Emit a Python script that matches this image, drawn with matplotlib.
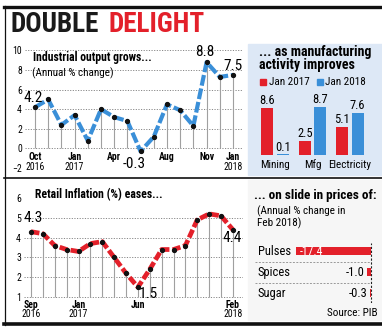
import matplotlib
matplotlib.use('Agg')
import matplotlib.pyplot as plt
from matplotlib import font_manager
from matplotlib.patches import Rectangle
from matplotlib.lines import Line2D

# ---- data ----
iip_months = ['Oct 2016', 'Nov', 'Dec', 'Jan 2017', 'Feb', 'Mar', 'Apr', 'May', 'Jun',
              'Jul', 'Aug', 'Sep', 'Oct', 'Nov', 'Dec', 'Jan 2018']
iip_values = [4.2, 5.0, 2.4, 3.4, 0.8, 4.0, 3.2, 2.8, -0.3, 1.2, 4.5, 3.9, 2.3, 8.8, 7.3, 7.5]
iip_ticks = {0: ('Oct', '2016'), 3: ('Jan', '2017'), 6: ('Apr', ''), 10: ('Aug', ''),
             13: ('Nov', ''), 15: ('Jan', '2018')}
iip_callouts = {0: '4.2', 8: '-0.3', 13: '8.8', 15: '7.5'}

cpi_months = ['Sep 2016', 'Oct', 'Nov', 'Dec', 'Jan 2017', 'Feb', 'Mar', 'Apr', 'May',
              'Jun', 'Jul', 'Aug', 'Sep', 'Oct', 'Nov', 'Dec', 'Jan 2018', 'Feb 2018']
cpi_values = [4.3, 4.2, 3.6, 3.4, 3.3, 3.7, 3.8, 3.0, 2.2, 1.5, 2.4, 3.4, 3.4, 3.6, 4.9, 5.2, 5.1, 4.4]
cpi_ticks = {0: ('Sep', '2016'), 4: ('Jan', '2017'), 9: ('Jun', ''), 17: ('Feb', '2018')}
cpi_callouts = {0: '4.3', 9: '1.5', 17: '4.4'}

sectors = ['Mining', 'Mfg', 'Electricity']
sector_2017 = [8.6, 2.5, 5.1]
sector_2018 = [0.1, 8.7, 7.6]

items = ['Pulses', 'Spices', 'Sugar']
item_change = [-17.4, -1.0, -0.3]

RED = '#e3202a'
BLUE = '#3a8fd8'

W, H = 382, 328


def pick(cands):
    names = {f.name for f in font_manager.fontManager.ttflist}
    for c in cands:
        if c in names:
            return c
    return 'DejaVu Sans'


NARROW = pick(['Liberation Sans Narrow', 'Roboto Condensed', 'Roboto'])
plt.rcParams['font.family'] = [NARROW, 'DejaVu Sans']


def rect(x0, y0, x1, y1):
    return [x0 / W, 1 - y1 / H, (x1 - x0) / W, (y1 - y0) / H]


def ftext(x, y, s, **kw):
    kw.setdefault('va', 'center')
    return fig.text(x / W, 1 - y / H, s, **kw)


def hline(x0, x1, y, **kw):
    fig.add_artist(Line2D([x0 / W, x1 / W], [1 - y / H, 1 - y / H], transform=fig.transFigure, **kw))


def vline(x, y0, y1, **kw):
    fig.add_artist(Line2D([x / W, x / W], [1 - y0 / H, 1 - y1 / H], transform=fig.transFigure, **kw))


fig = plt.figure(figsize=(W / 100, H / 100), dpi=100)

# panel backgrounds
fig.add_artist(Rectangle((248 / W, 1 - 175 / H), (W - 248) / W, (175 - 44) / H,
                         transform=fig.transFigure, color='#dde8f6', zorder=0))
fig.add_artist(Rectangle((248 / W, 1 - 320 / H), (W - 248) / W, (320 - 180) / H,
                         transform=fig.transFigure, color='#f6f6f6', zorder=0))

# frame lines
hline(4, W, 7, color='#111111', lw=2.4)
hline(4, W, 177.5, color='#111111', lw=1.2)
hline(4, W, 324, color='#111111', lw=2.6)
vline(4.5, 6, 325, color='#111111', lw=0.9)

# headline
ftext(11, 24, 'DOUBLE', color='#1a1a1a', fontsize=19.5, fontweight='bold')
ftext(108, 24, 'DELIGHT', color=RED, fontsize=19.5, fontweight='bold')

# ---- industrial output ----
ax1 = fig.add_axes(rect(25, 44, 243, 172))
x1 = list(range(len(iip_values)))
ax1.set_xlim(-0.758, 15.76)
ax1.set_ylim(-2.4, 10.66)
ax1.set_yticks([-2, 0, 2, 4, 6, 8, 10])
ax1.set_xticks([])
ax1.tick_params(axis='y', length=0, pad=2.2, labelsize=7)
for y in range(0, 11, 2):
    ax1.axhline(y, color='#888888', lw=0.7, ls=(0, (1.2, 1.5)), zorder=1)
ax1.vlines(x1, 0, iip_values, color='#a0a0a0', lw=0.8, zorder=2)
ax1.plot(x1, iip_values, color=BLUE, lw=3.0, ls=(0, (2.6, 0.7)), zorder=3, solid_capstyle='butt')
ax1.plot(x1, iip_values, 'o', color='#111111', ms=2.8, zorder=4)
for s in ax1.spines.values():
    s.set_visible(False)
ax1.patch.set_alpha(0)
for i, (m, yr) in iip_ticks.items():
    ax1.text(i, -0.85, m, ha='center', va='center', fontsize=7, fontweight='bold', clip_on=False)
    if yr:
        ax1.text(i, -1.85, yr, ha='center', va='center', fontsize=7, clip_on=False)
call_off = {0: (-0.1, 0.9), 8: (-0.45, -1.3), 13: (-0.15, 1.05), 15: (0.0, 0.9)}
for i, lab in iip_callouts.items():
    dx, dy = call_off[i]
    ax1.text(i + dx, iip_values[i] + dy, lab, ha='center', va='center', fontsize=11, clip_on=False)
ftext(33, 57, 'Industrial output grows...', fontsize=8.5, fontweight='bold')
ftext(32, 73, '(Annual % change)', fontsize=8)

# ---- manufacturing bars ----
ax2 = fig.add_axes(rect(250, 95, 378, 155))
xs = list(range(len(sectors)))
off = 0.205
bw = 0.32
ax2.bar([x - off for x in xs], sector_2017, width=bw, color=RED, label='Jan 2017')
ax2.bar([x + off for x in xs], sector_2018, width=bw, color=BLUE, label='Jan 2018')
ax2.set_xlim(-0.667, 2.747)
ax2.set_ylim(0, 10.9)
ax2.axis('off')
for x, v in zip(xs, sector_2017):
    ax2.text(x - off, v + 0.15, f'{v}', ha='center', va='bottom', fontsize=9, clip_on=False)
for x, v in zip(xs, sector_2018):
    ax2.text(x + off, v + 0.15, f'{v}', ha='center', va='bottom', fontsize=9, clip_on=False)
for x, s in zip(xs, sectors):
    ax2.text(x, -1.8, s, ha='center', va='center', fontsize=8, clip_on=False)
ftext(259, 52, '... as manufacturing', fontsize=10, fontweight='bold')
ftext(259, 65, 'activity improves', fontsize=10, fontweight='bold')
fig.add_artist(Rectangle((260 / W, 1 - 85 / H), 6 / W, 6 / H, transform=fig.transFigure, color=RED))
ftext(269, 82, 'Jan 2017', fontsize=8)
fig.add_artist(Rectangle((317 / W, 1 - 85 / H), 6 / W, 6 / H, transform=fig.transFigure, color=BLUE))
ftext(325, 82, 'Jan 2018', fontsize=8)

# ---- retail inflation ----
ax3 = fig.add_axes(rect(24, 183, 243, 300))
x3 = list(range(len(cpi_values)))
ax3.set_xlim(-0.59, 17.85)
ax3.set_ylim(0.85, 6.76)
ax3.set_yticks([1, 2, 3, 4, 5, 6])
ax3.set_xticks([])
ax3.tick_params(axis='y', length=0, pad=2.2, labelsize=7)
for y in range(1, 6):
    ax3.axhline(y, color='#888888', lw=0.7, ls=(0, (1.2, 1.5)), zorder=1)
ax3.vlines(x3, 1, cpi_values, color='#a0a0a0', lw=0.8, zorder=2)
ax3.plot(x3, cpi_values, color=RED, lw=3.4, ls=(0, (1.8, 0.6)), zorder=3, solid_capstyle='butt')
ax3.plot(x3, cpi_values, 'o', color='#111111', ms=2.8, zorder=4)
for s in ax3.spines.values():
    s.set_visible(False)
ax3.patch.set_alpha(0)
for i, (m, yr) in cpi_ticks.items():
    ax3.text(i, 0.6, m, ha='center', va='center', fontsize=7, fontweight='bold', clip_on=False)
    if yr:
        ax3.text(i, 0.15, yr, ha='center', va='center', fontsize=7, clip_on=False)
call_off3 = {0: (0.15, 0.7), 9: (0.85, -0.35), 17: (-0.1, -0.4)}
for i, lab in cpi_callouts.items():
    dx, dy = call_off3[i]
    ax3.text(i + dx, cpi_values[i] + dy, lab, ha='center', va='center', fontsize=11, clip_on=False)
ftext(35, 195, 'Retail Inflation (%) eases...', fontsize=8.5, fontweight='bold')

# ---- prices slide ----
ax4 = fig.add_axes(rect(255, 240, 375, 303))
y4 = list(range(len(items)))
ax4.barh(y4, item_change, height=0.34, color=RED, zorder=2)
ax4.set_xlim(-26.98, 0.93)
ax4.set_ylim(2.476, -0.524)
ax4.axis('off')
ax4.axvline(0, ymin=0.0, ymax=0.95, color='#222222', lw=0.8, ls=(0, (2, 1.5)), zorder=3)
for yy in (0.5, 1.5):
    ax4.plot([-26.98, 0], [yy, yy], color='#999999', lw=0.7, ls=(0, (2, 1.5)))
for yy, name, v in zip(y4, items, item_change):
    ax4.text(-26.3, yy, name, ha='left', va='center', fontsize=9)
    if v < -5:
        ax4.text(v + 0.8, yy, f'{v}', ha='left', va='center', fontsize=8.5, color='white')
    else:
        ax4.text(v - 0.5, yy, f'{v:.1f}', ha='right', va='center', fontsize=9)
ftext(254, 196, '... on slide in prices of:', fontsize=9.5, fontweight='bold')
ftext(257, 211, '(Annual % change in', fontsize=8)
ftext(257, 223, 'Feb 2018)', fontsize=8)
ftext(378, 313, 'Source: PIB', fontsize=8, ha='right')

fig.savefig('out.png', dpi=100)
